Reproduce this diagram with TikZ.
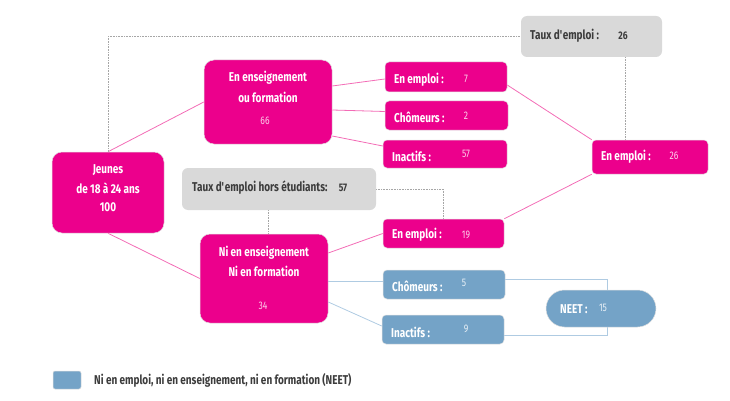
\documentclass[tikz,border=0pt]{standalone}
\usepackage{fontspec}
\setmainfont{Fira Sans}[FakeStretch=0.78]
\usetikzlibrary{backgrounds,shapes.misc}
\definecolor{mag}{HTML}{EC008C}
\definecolor{pinkl}{HTML}{F36CB6}
\definecolor{gbox}{HTML}{D9D9D9}
\definecolor{nblue}{HTML}{74A3C7}
\definecolor{lblue}{HTML}{AFCBE2}
\definecolor{dtxt}{HTML}{3C3C3C}
\tikzset{
  box/.style={rectangle, rounded corners=#1, inner sep=0pt, draw=black!12, line width=0.5pt},
  box/.default=4pt,
  mbox/.style={box=#1, fill=mag},
  mbox/.default=4pt,
  gbx/.style={rectangle, rounded corners=6pt, inner sep=0pt, fill=gbox},
  bbox/.style={box=#1, fill=nblue},
  bbox/.default=4pt,
  lab/.style={font=\bfseries\fontsize{12.8}{15}\selectfont, text=white, inner sep=0pt},
  dlab/.style={lab, text=dtxt},
  num/.style={font=\fontsize{11}{13}\selectfont, text=white!82!mag, inner sep=0pt},
  bnum/.style={num, text=white!85!nblue},
  dnum/.style={num, font=\bfseries\fontsize{11}{13}\selectfont, text=dtxt},
  pline/.style={draw=pinkl, line width=0.8pt},
  bline/.style={draw=lblue, line width=0.8pt},
  dline/.style={draw=gray!70, line width=0.6pt, densely dotted},
}
\begin{document}
\begin{tikzpicture}[x=1pt,y=-1pt]
\useasboundingbox (0,0) rectangle (730,401);
% boxes
\node[mbox=10pt, minimum width=112pt, minimum height=81pt] (jeunes) at (108,192.5) {};
\node[mbox=10pt, minimum width=128pt, minimum height=84pt] (ens) at (268,102) {};
\node[mbox=10pt, minimum width=128pt, minimum height=89pt] (ni) at (264,278.5) {};
\node[gbx, minimum width=194pt, minimum height=42pt] (txh) at (279,189) {};
\node[gbx, minimum width=141pt, minimum height=41pt] (tx) at (591.5,36.5) {};
\node[mbox, minimum width=122pt, minimum height=30pt] (em7) at (446,77) {};
\node[mbox, minimum width=123pt, minimum height=29pt] (ch2) at (446.5,115.5) {};
\node[mbox, minimum width=124pt, minimum height=28pt] (in57) at (445,154) {};
\node[mbox, minimum width=116pt, minimum height=34pt] (em26) at (650,157) {};
\node[mbox, minimum width=121pt, minimum height=29pt] (em19) at (443.5,233.5) {};
\node[bbox, minimum width=122pt, minimum height=29pt] (ch5) at (444,284.5) {};
\node[bbox, minimum width=122pt, minimum height=29pt] (in9) at (443,329.5) {};
\node[rounded rectangle, fill=nblue, draw=black!12, line width=0.5pt, inner sep=0pt, minimum width=110pt, minimum height=37pt] (neet) at (601,308.5) {};
\node[bbox=2pt, minimum width=28pt, minimum height=18pt] (leg) at (67,380) {};
% texts
\node[lab] (tj1) at (108,170) {Jeunes};
\node[lab] (tj2) at (108,188.5) {de 18 à 24 ans};
\node[lab] (tj3) at (108,207) {100};
\node[lab] (te1) at (268,78) {En enseignement};
\node[lab] (te2) at (268,97) {ou formation};
\node[num] (te3) at (265,121) {66};
\node[lab] (tn1) at (264,253) {Ni en enseignement};
\node[lab] (tn2) at (264,271) {Ni en formation};
\node[num] (tn3) at (263,306) {34};
\node[dlab, anchor=west] (th1) at (192,188) {Taux d\textquotesingle emploi hors étudiants:};
\node[dnum] (th2) at (343,188) {57};
\node[dlab, anchor=west] (tt1) at (530,36) {Taux d\textquotesingle emploi :};
\node[dnum] (tt2) at (623,36) {26};
\node[lab, anchor=west] (l7) at (394,80) {En emploi :};
\node[num] (n7) at (466,79) {7};
\node[lab, anchor=west] (l2) at (394,117) {Chômeurs :};
\node[num] (n2) at (466,116) {2};
\node[lab, anchor=west] (l57) at (392,156) {Inactifs :};
\node[num] (n57) at (466,154) {57};
\node[lab, anchor=west] (l26) at (601,157) {En emploi :};
\node[num] (n26) at (674,156) {26};
\node[lab, anchor=west] (l19) at (392,235) {En emploi :};
\node[num] (n19) at (466,235) {19};
\node[lab, anchor=west] (l5) at (392,286) {Chômeurs :};
\node[bnum] (n5) at (464,283) {5};
\node[lab, anchor=west] (l9) at (391,332) {Inactifs :};
\node[bnum] (n9) at (466,329) {9};
\node[lab, anchor=west] (lneet) at (560,309) {NEET :};
\node[bnum] (nneet) at (603,308) {15};
\node[dlab, anchor=west, font=\bfseries\fontsize{12.8}{15}\selectfont] (legt) at (94,380) {Ni en emploi, ni en enseignement, ni en formation (NEET)};
% connectors
\begin{pgfonlayer}{background}
\draw[pline] (jeunes.north) -- (ens.west);
\draw[pline] (jeunes.south) -- (ni.west);
\draw[pline] ([yshift=16pt]ens.east) -- ([yshift=-2pt]em7.west);
\draw[pline] ([yshift=-8pt]ens.east) -- ([yshift=4pt]ch2.west);
\draw[pline] ([yshift=-34pt]ens.east) -- ([yshift=8pt]in57.west);
\draw[pline] ([yshift=-8pt]em7.east) -- (em26.north west);
\draw[pline] (em19.north east) -- (em26.south west);
\draw[pline] ([yshift=25.5pt]ni.east) -- (em19.west);
\draw[bline] ([yshift=-2.5pt]ni.east) -- ([yshift=3.5pt]ch5.west);
\draw[bline] ([yshift=-23.5pt]ni.east) -- ([yshift=3.5pt]in9.west);
\coordinate (bra) at ([yshift=5.5pt]ch5.east);
\coordinate (brb) at ([yshift=-5.5pt]in9.east);
\coordinate (brx) at (607,279);
\draw[bline] (bra) -- (bra -| brx) -- (brb -| brx) -- (brb);
\draw[dline] (jeunes.north) |- (tx.west);
\coordinate (d1) at ([xshift=33.5pt]tx.south);
\draw[dline] (d1) -- (d1 |- em26.north);
\draw[dline] (txh.east) -| (em19.north);
\coordinate (d2) at ([xshift=-11pt]txh.south);
\draw[dline] (d2) -- (d2 |- ni.north);
\end{pgfonlayer}
\end{tikzpicture}
\end{document}
